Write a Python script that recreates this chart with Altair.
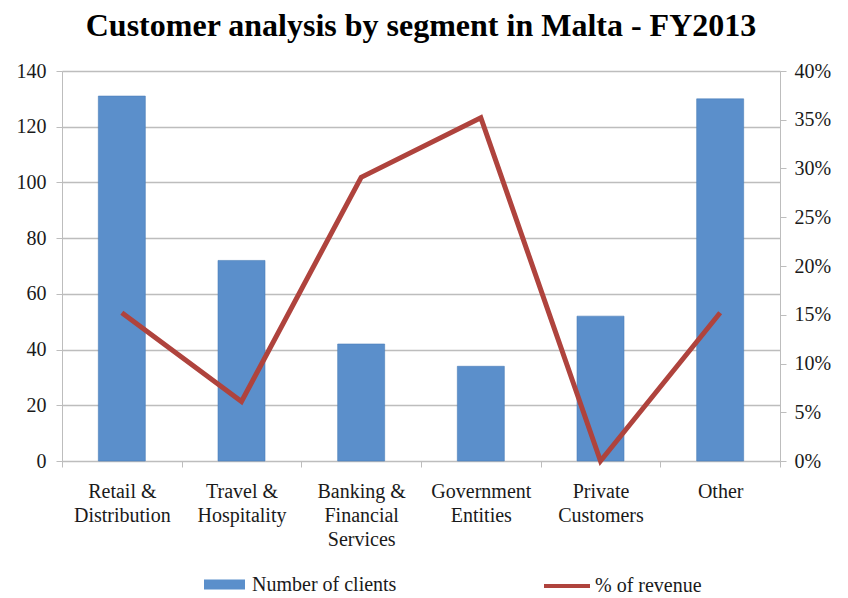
import altair as alt
import pandas as pd

categories = ["Retail & Distribution", "Travel & Hospitality", "Banking & Financial Services",
              "Government Entities", "Private Customers", "Other"]
label_lines = ["Retail &|Distribution", "Travel &|Hospitality", "Banking &|Financial|Services",
               "Government|Entities", "Private|Customers", "Other"]
clients = [131, 72, 42, 34, 52, 130]
revenue_pct = [0.152, 0.061, 0.291, 0.352, 0.0, 0.152]

df = pd.DataFrame({
    "segment": label_lines,
    "clients": clients,
    "revenue": revenue_pct,
    "s1": ["Number of clients"] * 6,
    "s2": ["% of revenue"] * 6,
})

FONT = "Liberation Serif"
BLUE = "#5B8FCB"
RED = "#AF433D"
GRID = "#BDBDBD"
TXT = "#1a1a1a"
FS = 20

xenc = alt.X("segment:N", sort=label_lines, title=None,
             scale=alt.Scale(paddingInner=0, paddingOuter=0),
             axis=alt.Axis(labelExpr="split(datum.label, '|')", labelAngle=0,
                           labelFont=FONT, labelFontSize=FS, labelColor=TXT,
                           labelLineHeight=24, labelPadding=14,
                           domainColor=GRID, tickColor=GRID, tickSize=6,
                           tickBand="extent", labelLimit=200))

bars = alt.Chart(df).mark_bar(size=47, stroke="#4C7DB8", strokeWidth=0.6).encode(
    x=xenc,
    y=alt.Y("clients:Q", title=None,
            scale=alt.Scale(domain=[0, 140]),
            axis=alt.Axis(values=list(range(0, 141, 20)), labelFont=FONT, labelFontSize=FS,
                          labelColor=TXT, grid=True, gridColor=GRID, gridWidth=1.5,
                          domainColor=GRID, tickColor=GRID, tickSize=6, labelPadding=10)),
    color=alt.Color("s1:N", scale=alt.Scale(range=[BLUE]),
                    legend=alt.Legend(title=None, orient="none", legendX=142, legendY=493,
                                      symbolType="M-1,-0.244H1V0.244H-1Z", symbolSize=1681,
                                      symbolStrokeWidth=0, labelFont=FONT, labelFontSize=FS,
                                      labelColor=TXT, labelOffset=7, padding=0)),
)

line = alt.Chart(df).mark_line(strokeWidth=5).encode(
    x=alt.X("segment:N", sort=label_lines),
    y=alt.Y("revenue:Q", title=None, scale=alt.Scale(domain=[0, 0.4]),
            axis=alt.Axis(orient="right", values=[i * 0.05 for i in range(9)], format=".0%",
                          labelFont=FONT, labelFontSize=FS, labelColor=TXT, grid=False,
                          domainColor=GRID, tickColor=GRID, tickSize=6, labelPadding=8)),
    stroke=alt.Stroke("s2:N", scale=alt.Scale(range=[RED]),
                      legend=alt.Legend(title=None, orient="none", legendX=480, legendY=490,
                                        symbolType="stroke", symbolSize=2116,
                                        symbolStrokeWidth=4, symbolStrokeColor=RED,
                                        labelFont=FONT, labelFontSize=FS,
                                        labelColor=TXT, labelOffset=3, padding=0)),
)

chart = alt.layer(bars, line).resolve_scale(y="independent", color="independent").properties(
    width=718, height=390,
    title=alt.TitleParams("Customer analysis by segment in Malta - FY2013",
                          font=FONT, fontSize=32, fontWeight="bold", color="#000", offset=18),
    autosize=alt.AutoSizeParams(type="none"),
    padding={"left": 54, "top": 63, "right": 60, "bottom": 135},
).configure_view(stroke=None).configure(background="white")

chart.save("out.html", embed_options={"renderer": "svg", "actions": False})
